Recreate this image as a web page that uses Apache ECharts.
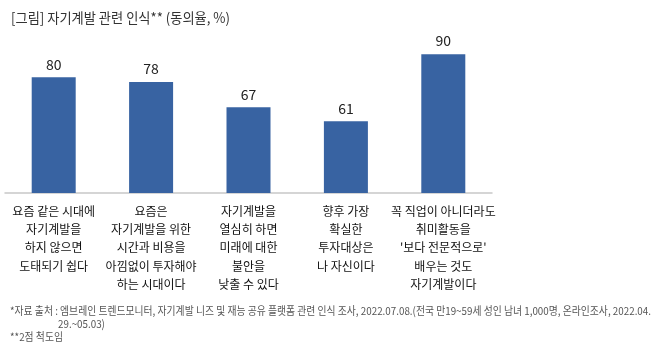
<!DOCTYPE html>
<html><head><meta charset="utf-8">
<script src="https://cdn.jsdelivr.net/npm/echarts@6/dist/echarts.min.js"></script>
<style>html,body{margin:0;padding:0;background:#fff}#c{width:658px;height:357px}</style>
</head><body><div id="c"></div>
<script>
var titleText = "[그림] 자기계발 관련 인식** (동의율, %)";
var categories = [
  "요즘 같은 시대에\n자기계발을\n하지 않으면\n도태되기 쉽다",
  "요즘은\n자기계발을 위한\n시간과 비용을\n아낌없이 투자해야\n하는 시대이다",
  "자기계발을\n열심히 하면\n미래에 대한\n불안을\n낮출 수 있다",
  "향후 가장\n확실한\n투자대상은\n나 자신이다",
  "꼭 직업이 아니더라도\n취미활동을\n'보다 전문적으로'\n배우는 것도\n자기계발이다"
];
var values = [80, 78, 67, 61, 90];
var footLine1 = "*자료 출처 : 엠브레인 트렌드모니터, 자기계발 니즈 및 재능 공유 플랫폼 관련 인식 조사, 2022.07.08.(전국 만19~59세 성인 남녀 1,000명, 온라인조사, 2022.04.";
var footLine2 = "29.~05.03)";
var footLine3 = "**2점 척도임";

var FONT = '"Noto Sans CJK KR", "Noto Sans", sans-serif';
function measure(txt, size) {
  var cv = document.createElement('canvas').getContext('2d');
  cv.font = size + 'px ' + FONT;
  return cv.measureText(txt).width;
}
var footSize = 11;
var footScale = 641 / measure(footLine1, footSize);
var titleSize = 14;
var titleScale = 219 / measure(titleText, titleSize);

var chart = echarts.init(document.getElementById('c'));
chart.setOption({
  animation: false,
  grid: { left: 5, right: 166, top: 31, bottom: 164 },
  xAxis: {
    type: 'category', data: categories,
    axisTick: { show: false },
    axisLine: { lineStyle: { color: '#c8c8c8', width: 1.5 } },
    axisLabel: { interval: 0, fontSize: 12, lineHeight: 18.3, color: '#111', margin: 9, fontFamily: FONT }
  },
  yAxis: { type: 'value', min: 30, max: 100, show: false, splitLine: { show: false } },
  series: [{
    type: 'bar', data: values, barWidth: 44,
    itemStyle: { color: '#3863A2' },
    label: { show: true, position: 'top', distance: 6, fontSize: 14, color: '#222', fontFamily: FONT }
  }],
  graphic: [
    { type: 'text', x: 11, y: 11, scaleX: titleScale, style: { text: titleText, fontSize: titleSize, fill: '#333', fontFamily: FONT } },
    { type: 'text', x: 10, y: 305, scaleX: footScale, style: { text: footLine1, fontSize: footSize, fill: '#555', fontFamily: FONT } },
    { type: 'text', x: 58, y: 318, scaleX: footScale, style: { text: footLine2, fontSize: footSize, fill: '#555', fontFamily: FONT } },
    { type: 'text', x: 10, y: 331, scaleX: footScale, style: { text: footLine3, fontSize: footSize, fill: '#555', fontFamily: FONT } }
  ]
});
</script></body></html>
